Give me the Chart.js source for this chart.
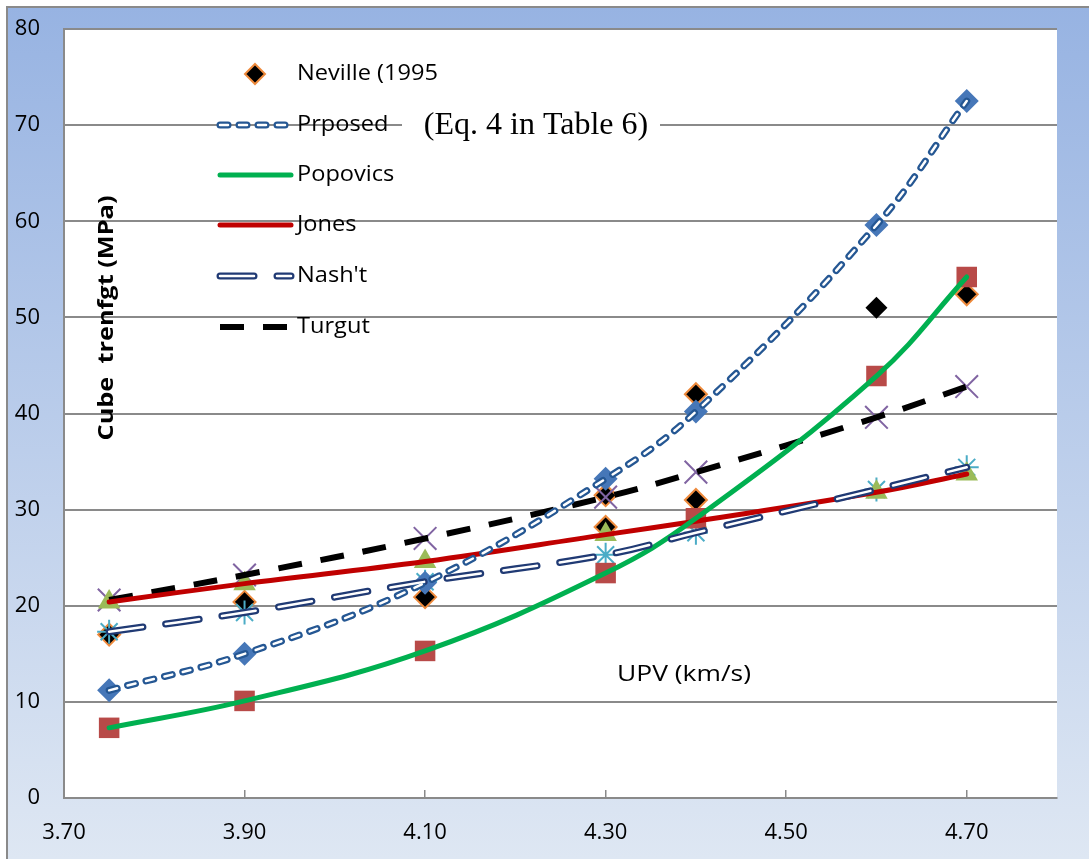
<!DOCTYPE html>
<html>
<head>
    <title>Cube strength vs UPV</title>
    <script src="https://cdn.jsdelivr.net/npm/chart.js"></script>
    <style>
        body { margin: 0; background: #fff; }
        canvas { display: block; }
    </style>
</head>
<body>
    <canvas id="upvChart" width="1089" height="859"></canvas>
    <script>
        // values
        const upv = [3.75, 3.90, 4.10, 4.30, 4.40, 4.60, 4.70];
        const proposed = [11.2, 15.0, 22.4, 33.2, 40.2, 59.6, 72.5];
        const popovics = [7.3, 10.1, 15.3, 23.4, 29.1, 43.9, 54.2];
        const jones = [20.4, 22.3, 24.6, 27.4, 28.8, 31.8, 33.7];
        const nasht = [17.3, 19.3, 22.5, 25.3, 27.6, 32.1, 34.4];
        const turgut = [20.6, 23.2, 27.0, 31.3, 33.9, 39.6, 42.8];

        const nevilleX = [3.75, 3.90, 4.10, 4.30, 4.30, 4.40, 4.40, 4.70];
        const nevilleY = [17.0, 20.4, 20.9, 28.2, 31.5, 31.0, 42.0, 52.4];
        const extraX = [4.60];
        const extraY = [51.0];

        const xTicks = [3.70, 3.90, 4.10, 4.30, 4.50, 4.70];
        const legendNames = ['Neville (1995', 'Prposed', 'Popovics', 'Jones', "Nash't", 'Turgut'];

        const GRID = '#8a8a8a';
        Chart.defaults.font.family = '"Open Sans"';
        Chart.defaults.color = '#000';

        function pts(xs, ys) {
            return xs.map((x, i) => ({ x: x, y: ys[i] }));
        }

        function lineSet(ys, color, width, dash, cap, order) {
            return {
                data: pts(upv, ys), showLine: true, pointRadius: 0,
                borderColor: color, borderWidth: width, borderDash: dash,
                borderCapStyle: cap, tension: 0.4, order: order
            };
        }

        function markerSet(xs, ys, style, r, fill, stroke, bw) {
            return {
                data: pts(xs, ys), showLine: false, pointStyle: style, pointRadius: r,
                backgroundColor: fill, borderColor: stroke, pointBorderWidth: bw, order: 5
            };
        }

        // text in the original is a bit wider than the installed fonts, so stretch it
        function stretchText(ctx, text, x, y, sx) {
            ctx.save();
            ctx.translate(x, y);
            ctx.scale(sx, 1);
            ctx.fillText(text, 0, 0);
            ctx.restore();
        }

        const PROP_DASH = [8, 11];
        const NASH_DASH = [34, 23];
        const TURG_DASH = [24, 19];

        const backdrop = {
            id: 'backdrop',
            beforeDraw(chart) {
                const ctx = chart.ctx;
                const a = chart.chartArea;
                ctx.save();
                const g = ctx.createLinearGradient(0, 7, 0, chart.height);
                g.addColorStop(0, '#97b3e2');
                g.addColorStop(1, '#dee7f3');
                ctx.fillStyle = g;
                ctx.fillRect(7, 7, chart.width - 7, chart.height - 7);
                ctx.strokeStyle = GRID;
                ctx.lineWidth = 2;
                ctx.beginPath();
                ctx.moveTo(7, chart.height);
                ctx.lineTo(7, 7);
                ctx.lineTo(chart.width, 7);
                ctx.stroke();
                ctx.fillStyle = '#fff';
                ctx.fillRect(a.left, a.top, a.right - a.left, a.bottom - a.top);
                ctx.restore();
            }
        };

        const notes = {
            id: 'notes',
            afterDraw(chart) {
                const ctx = chart.ctx;
                const a = chart.chartArea;
                ctx.save();

                // equation note with white box over the grid line
                ctx.fillStyle = '#fff';
                ctx.fillRect(a.left + 338, a.top + 72, 258, 50);
                ctx.fillStyle = '#000';
                ctx.font = '32px "Liberation Serif"';
                ctx.textAlign = 'center';
                ctx.textBaseline = 'middle';
                ctx.fillText('(Eq. 4 in Table 6)', a.left + 472, a.top + 97);

                ctx.font = '22px "Open Sans"';
                const upvLabel = 'UPV (km/s)';
                stretchText(ctx, upvLabel, a.left + 620, a.top + 646, 134 / ctx.measureText(upvLabel).width);

                // y title sits inside the plot
                ctx.save();
                ctx.translate(a.left + 43, a.top + 289);
                ctx.rotate(-Math.PI / 2);
                ctx.font = 'bold 21px "Open Sans"';
                const title = 'Cube  trenfgt (MPa)';
                stretchText(ctx, title, 0, 0, 245 / ctx.measureText(title).width);
                ctx.restore();

                // legend
                const x0 = 220, x1 = 291;
                const rows = [74, 125, 175, 225, 276, 327];
                ctx.textAlign = 'left';
                ctx.font = '22px "Open Sans"';
                const sx = 141 / ctx.measureText(legendNames[0]).width;
                legendNames.forEach((name, i) => {
                    ctx.fillStyle = '#000';
                    stretchText(ctx, name, 297, rows[i], sx);
                });

                const seg = (y, color, width, dash, cap) => {
                    ctx.beginPath();
                    ctx.setLineDash(dash);
                    ctx.lineCap = cap;
                    ctx.strokeStyle = color;
                    ctx.lineWidth = width;
                    ctx.moveTo(x0, y);
                    ctx.lineTo(x1, y);
                    ctx.stroke();
                };

                // Neville marker
                ctx.setLineDash([]);
                ctx.beginPath();
                ctx.moveTo(255, rows[0] - 10);
                ctx.lineTo(265, rows[0]);
                ctx.lineTo(255, rows[0] + 10);
                ctx.lineTo(245, rows[0]);
                ctx.closePath();
                ctx.fillStyle = '#000';
                ctx.fill();
                ctx.strokeStyle = '#ee8a3c';
                ctx.lineWidth = 2;
                ctx.stroke();

                seg(rows[1], '#255793', 7, PROP_DASH, 'round');
                seg(rows[1], '#fff', 2.5, PROP_DASH, 'round');
                seg(rows[2], '#00b050', 5, [], 'round');
                seg(rows[3], '#c00000', 5, [], 'round');
                seg(rows[4], '#203a74', 7, NASH_DASH, 'round');
                seg(rows[4], '#fff', 2.5, NASH_DASH, 'round');
                seg(rows[5], '#000', 6, TURG_DASH, 'butt');

                ctx.restore();
            }
        };

        const chart = new Chart(document.getElementById('upvChart').getContext('2d'), {
            type: 'scatter',
            data: {
                datasets: [
                    lineSet(proposed, '#255793', 7, PROP_DASH, 'round', 1),
                    lineSet(proposed, '#fff', 2.5, PROP_DASH, 'round', 0),
                    lineSet(popovics, '#00b050', 5, [], 'round', 2),
                    lineSet(jones, '#c00000', 5, [], 'round', 2),
                    lineSet(nasht, '#203a74', 7, NASH_DASH, 'round', 1),
                    lineSet(nasht, '#fff', 2.5, NASH_DASH, 'round', 0),
                    lineSet(turgut, '#000', 6, TURG_DASH, 'butt', 2),
                    markerSet(upv, proposed, 'rectRot', 12, '#4677b8', '#4677b8', 0),
                    markerSet(upv, popovics, 'rect', 14.5, '#b84a48', '#b84a48', 0),
                    markerSet(upv, jones, 'triangle', 13, '#9bbb59', '#9bbb59', 0),
                    markerSet(upv, nasht, 'star', 12, '#4bacc6', '#4bacc6', 2),
                    markerSet(upv, turgut, 'crossRot', 16, '#8064a2', '#8064a2', 2),
                    markerSet(nevilleX, nevilleY, 'rectRot', 11, '#000', '#ee8a3c', 2),
                    markerSet(extraX, extraY, 'rectRot', 11, '#000', '#000', 0)
                ]
            },
            options: {
                responsive: false,
                animation: false,
                layout: { padding: { top: 29, right: 32, left: 0, bottom: 0 } },
                plugins: { legend: { display: false }, tooltip: { enabled: false } },
                scales: {
                    x: {
                        type: 'linear', min: 3.7, max: 4.8,
                        afterFit: s => { s.height = 61; },
                        afterBuildTicks: s => { s.ticks = xTicks.map(v => ({ value: v })); },
                        grid: { drawOnChartArea: false, drawTicks: true, tickLength: -8, color: GRID, lineWidth: 1.5 },
                        border: { display: true, color: GRID, width: 2 },
                        ticks: { padding: 30, font: { size: 22 }, callback: v => Number(v).toFixed(2), autoSkip: false, maxRotation: 0 }
                    },
                    y: {
                        min: 0, max: 80,
                        afterFit: s => { s.width = 64; },
                        // invisible tick marks push the labels left without adding top padding
                        grid: { color: GRID, lineWidth: 2, drawTicks: true, tickLength: 16, tickColor: 'rgba(0,0,0,0)' },
                        border: { display: true, color: GRID, width: 2 },
                        ticks: { stepSize: 10, padding: 8, font: { size: 22 } }
                    }
                }
            },
            plugins: [backdrop, notes]
        });
    </script>
</body>
</html>
